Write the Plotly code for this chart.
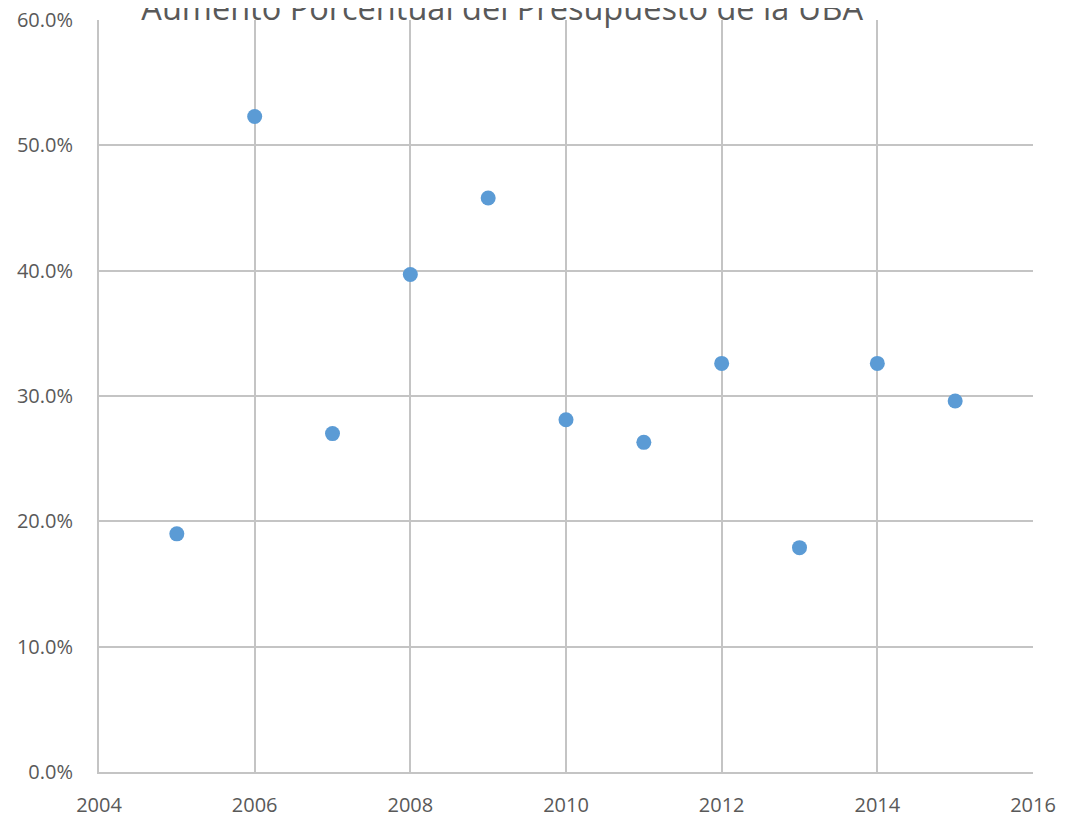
import plotly.graph_objects as go

years = [2005, 2006, 2007, 2008, 2009, 2010, 2011, 2012, 2013, 2014, 2015]
aumento = [0.190, 0.523, 0.270, 0.397, 0.458, 0.281, 0.263, 0.326, 0.179, 0.326, 0.296]
title_text = "Aumento Porcentual del Presupuesto de la UBA"

fig = go.Figure(go.Scatter(
    x=years, y=aumento, mode="markers",
    marker=dict(color="#5b9bd5", size=15, line=dict(width=0)),
))

grid = "#c4c4c4"
fig.update_layout(
    width=1065, height=819,
    margin=dict(l=91, r=40, t=12, b=55, autoexpand=False),
    paper_bgcolor="white", plot_bgcolor="white",
    showlegend=False,
    font=dict(family="Open Sans, Liberation Sans, sans-serif", color="#595959", size=20),
    title=dict(text=title_text, x=0.464, xanchor="center", xref="container",
               y=1, yanchor="bottom", yref="paper", pad=dict(b=0, t=0),
               font=dict(size=32.5, color="#595959")),
)
fig.update_xaxes(range=[2004, 2016], dtick=2, tick0=2004, showgrid=True, gridcolor=grid, gridwidth=2,
                 showline=True, linecolor=grid, linewidth=2, zeroline=False, ticks="",
                 ticklabelstandoff=14, automargin=False)
fig.update_yaxes(range=[0, 0.6], dtick=0.1, tickformat=".1%", showgrid=True, gridcolor=grid, gridwidth=2,
                 showline=True, linecolor=grid, linewidth=2, zeroline=False, ticks="",
                 ticklabelstandoff=20, automargin=False, ticklabeloverflow="allow")
fig.write_html("out.html")
